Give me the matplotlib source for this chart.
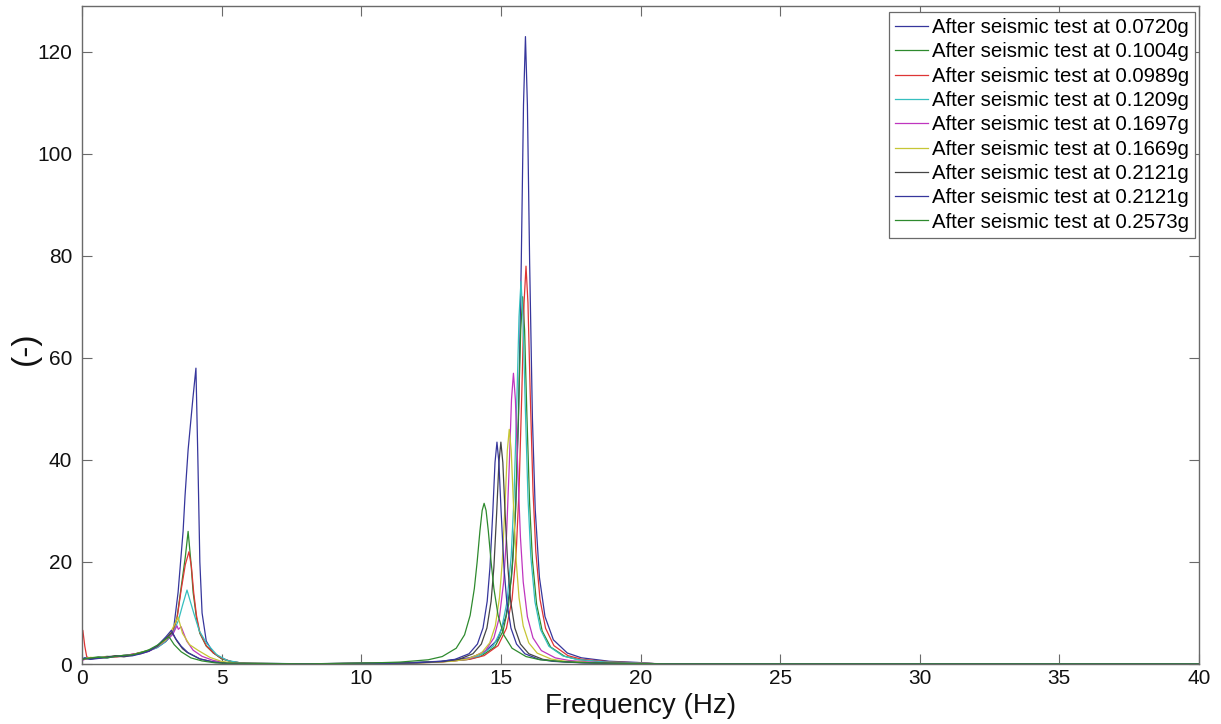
import matplotlib
matplotlib.use("Agg")
import matplotlib.pyplot as plt

plt.rcParams['font.family'] = ['Liberation Sans', 'DejaVu Sans']

labels = [
    "After seismic test at 0.0720g",
    "After seismic test at 0.1004g",
    "After seismic test at 0.0989g",
    "After seismic test at 0.1209g",
    "After seismic test at 0.1697g",
    "After seismic test at 0.1669g",
    "After seismic test at 0.2121g",
    "After seismic test at 0.2121g",
    "After seismic test at 0.2573g",
]
colors = ['#36369c', '#2e8a2e', '#de3535', '#35bfbf', '#bf35bf',
          '#c6c635', '#454545', '#36369c', '#2e8a2e']

# ---- series 1 (0.0720g) ----
s1_freq = [0, 0.1, 0.3, 0.6, 0.9, 1.2, 1.5, 1.8, 2.1, 2.4, 2.7, 3.0, 3.26, 3.44, 3.62, 3.69, 3.8, 3.97, 4.08,
           4.15, 4.22, 4.3, 4.45, 4.7, 4.95, 5.3, 5.7, 6.2, 8.0,
           11.88, 12.88, 13.88, 14.38, 14.88, 15.18, 15.38, 15.53, 15.63, 15.73, 15.81, 15.88,
           15.95, 16.03, 16.13, 16.23, 16.38, 16.58, 16.88, 17.38, 17.88, 18.88, 19.88, 20.5, 21.0, 40.0]
s1_amp = [0.8, 1.0, 1.1, 1.3, 1.2, 1.5, 1.6, 1.9, 2.2, 2.6, 3.3, 4.4, 6.0, 14, 26, 33, 42, 52, 58,
          40, 20, 10, 4.5, 2.2, 1.3, 0.5, 0.2, 0.05, 0.03,
          0.31, 0.54, 1.22, 2.15, 4.74, 9.29, 17.0, 30.3, 48.0, 78.7, 109.6, 123,
          109.6, 78.7, 48.0, 30.3, 17.0, 9.29, 4.74, 2.15, 1.22, 0.54, 0.31, 0.08, 0.03, 0.02]

# ---- series 2 (0.1004g) ----
s2_freq = [0, 0.1, 0.3, 0.6, 0.9, 1.2, 1.5, 1.8, 2.1, 2.4, 2.7, 3.0, 3.25, 3.4, 3.55, 3.7, 3.8, 3.9, 3.98,
           4.1, 4.22, 4.45, 4.7, 5.0, 5.4, 5.9, 8.0,
           11.78, 12.78, 13.78, 14.28, 14.78, 15.08, 15.28, 15.43, 15.53, 15.63, 15.71, 15.78,
           15.85, 15.93, 16.03, 16.13, 16.28, 16.48, 16.78, 17.28, 17.78, 18.78, 19.78, 20.5, 21.0, 40.0]
s2_amp = [0.9, 1.1, 1.2, 1.4, 1.3, 1.6, 1.5, 1.8, 2.3, 2.7, 3.4, 4.5, 6.2, 9.0, 15, 21, 26, 20, 14,
          9, 6, 3.5, 2.2, 1.0, 0.4, 0.1, 0.03,
          0.22, 0.39, 0.86, 1.52, 3.33, 6.47, 11.7, 20.4, 31.4, 49.1, 65.4, 72,
          65.4, 49.1, 31.4, 20.4, 11.7, 6.47, 3.33, 1.52, 0.86, 0.39, 0.22, 0.07, 0.03, 0.02]

# ---- series 3 (0.0989g) ----
s3_freq = [0, 0.03, 0.1, 0.17, 0.3, 0.6, 0.9, 1.2, 1.5, 1.8, 2.1, 2.4, 2.7, 3.0, 3.25, 3.4, 3.55, 3.7, 3.83,
           3.92, 4.0, 4.1, 4.22, 4.45, 4.7, 5.0, 5.4, 5.9, 8.0,
           11.9, 12.9, 13.9, 14.4, 14.9, 15.2, 15.4, 15.55, 15.65, 15.75, 15.83, 15.9,
           15.97, 16.05, 16.15, 16.25, 16.4, 16.6, 16.9, 17.4, 17.9, 18.9, 19.9, 20.5, 21.0, 40.0]
s3_amp = [5.0, 6.6, 3.5, 1.4, 1.1, 1.3, 1.4, 1.5, 1.7, 1.9, 2.2, 2.6, 3.3, 4.6, 6.3, 8.8, 14.5, 19.5, 22,
          19, 14, 9.5, 6.2, 3.6, 2.2, 1.1, 0.4, 0.1, 0.03,
          0.24, 0.42, 0.93, 1.64, 3.60, 7.01, 12.7, 22.1, 34.0, 53.2, 70.8, 78,
          70.8, 53.2, 34.0, 22.1, 12.7, 7.01, 3.60, 1.64, 0.93, 0.42, 0.24, 0.08, 0.03, 0.02]

# ---- series 4 (0.1209g) ----
s4_freq = [0, 0.1, 0.3, 0.6, 0.9, 1.2, 1.5, 1.8, 2.1, 2.4, 2.7, 3.0, 3.25, 3.45, 3.6, 3.76,
           4.0, 4.2, 4.47, 4.83, 5.2, 5.7, 8.0,
           11.72, 12.72, 13.72, 14.22, 14.72, 15.02, 15.22, 15.37, 15.47, 15.57, 15.65, 15.72,
           15.79, 15.87, 15.97, 16.07, 16.22, 16.42, 16.72, 17.22, 17.72, 18.72, 19.72, 20.5, 21.0, 40.0]
s4_amp = [1.0, 1.2, 1.0, 1.3, 1.5, 1.4, 1.7, 1.8, 2.1, 2.6, 3.2, 4.4, 6.0, 8.5, 11.5, 14.5,
          10, 6.5, 4.0, 1.8, 0.7, 0.2, 0.03,
          0.23, 0.40, 0.90, 1.58, 3.47, 6.74, 12.2, 21.2, 32.7, 51.2, 68.1, 75,
          68.1, 51.2, 32.7, 21.2, 12.2, 6.74, 3.47, 1.58, 0.90, 0.40, 0.23, 0.07, 0.03, 0.02]

# ---- series 5 (0.1697g) ----
s5_freq = [0, 0.1, 0.3, 0.6, 0.9, 1.2, 1.5, 1.8, 2.1, 2.4, 2.7, 3.0, 3.25, 3.4, 3.45, 3.55,
           3.75, 3.98, 4.3, 4.7, 5.2, 8.0,
           11.45, 12.45, 13.45, 13.95, 14.45, 14.75, 14.95, 15.1, 15.2, 15.3, 15.38, 15.45,
           15.52, 15.6, 15.7, 15.8, 15.95, 16.15, 16.45, 16.95, 17.45, 18.45, 19.45, 20.5, 21.0, 40.0]
s5_amp = [0.7, 0.9, 1.2, 1.1, 1.4, 1.3, 1.6, 1.9, 2.0, 2.5, 3.4, 4.6, 5.8, 7.5, 6.8, 7.3,
          4.5, 2.7, 1.5, 0.7, 0.2, 0.03,
          0.17, 0.30, 0.68, 1.20, 2.63, 5.12, 9.25, 16.1, 24.9, 38.9, 51.8, 57,
          51.8, 38.9, 24.9, 16.1, 9.25, 5.12, 2.63, 1.20, 0.68, 0.30, 0.17, 0.06, 0.03, 0.02]

# ---- series 6 (0.1669g) ----
s6_freq = [0, 0.1, 0.3, 0.6, 0.9, 1.2, 1.5, 1.8, 2.1, 2.4, 2.7, 3.0, 3.2, 3.44,
           3.6, 3.85, 4.15, 4.58, 5.0, 5.5, 8.0,
           11.3, 12.3, 13.3, 13.8, 14.3, 14.6, 14.8, 14.95, 15.05, 15.15, 15.23, 15.3,
           15.37, 15.45, 15.55, 15.65, 15.8, 16.0, 16.3, 16.8, 17.3, 18.3, 19.3, 20.5, 21.0, 40.0]
s6_amp = [0.9, 1.0, 1.3, 1.2, 1.5, 1.4, 1.5, 1.8, 2.2, 2.7, 3.5, 4.7, 6.5, 9.2,
          6.0, 3.8, 2.7, 1.3, 0.5, 0.15, 0.03,
          0.14, 0.25, 0.55, 0.97, 2.13, 4.14, 7.46, 13.0, 20.1, 31.4, 41.8, 46,
          41.8, 31.4, 20.1, 13.0, 7.46, 4.14, 2.13, 0.97, 0.55, 0.25, 0.14, 0.05, 0.02, 0.02]

# ---- series 7 (0.2121g) ----
s7_freq = [0, 0.1, 0.3, 0.6, 0.9, 1.2, 1.5, 1.8, 2.1, 2.4, 2.7, 3.0, 3.22,
           3.4, 3.6, 3.76, 4.22, 4.7, 5.2, 8.0,
           11.0, 12.0, 13.0, 13.5, 14.0, 14.3, 14.5, 14.65, 14.75, 14.85, 14.93, 15.0,
           15.07, 15.15, 15.25, 15.35, 15.5, 15.7, 16.0, 16.5, 17.0, 18.0, 19.0, 20.5, 21.0, 40.0]
s7_amp = [0.8, 1.1, 1.0, 1.2, 1.4, 1.6, 1.4, 1.7, 2.1, 2.6, 3.5, 5.0, 6.2,
          4.5, 3.0, 2.3, 1.0, 0.4, 0.1, 0.03,
          0.13, 0.23, 0.52, 0.92, 2.01, 3.91, 7.06, 12.3, 19.0, 29.7, 39.5, 43.5,
          39.5, 29.7, 19.0, 12.3, 7.06, 3.91, 2.01, 0.92, 0.52, 0.23, 0.13, 0.05, 0.02, 0.02]

# ---- series 8 (0.2121g) ----
s8_freq = [0, 0.1, 0.3, 0.6, 0.9, 1.2, 1.5, 1.8, 2.1, 2.4, 2.7, 3.0, 3.2,
           3.35, 3.55, 3.8, 4.22, 4.7, 5.2, 8.0,
           10.86, 11.86, 12.86, 13.36, 13.86, 14.16, 14.36, 14.51, 14.61, 14.71, 14.79, 14.86,
           14.93, 15.01, 15.11, 15.21, 15.36, 15.56, 15.86, 16.36, 16.86, 17.86, 18.86, 20.5, 21.0, 40.0]
s8_amp = [1.0, 1.2, 0.9, 1.1, 1.3, 1.5, 1.6, 1.6, 2.0, 2.5, 3.6, 5.3, 6.6,
          5.0, 3.5, 2.2, 1.0, 0.4, 0.1, 0.03,
          0.13, 0.23, 0.52, 0.92, 2.01, 3.91, 7.06, 12.3, 19.0, 29.7, 39.5, 43.5,
          39.5, 29.7, 19.0, 12.3, 7.06, 3.91, 2.01, 0.92, 0.52, 0.23, 0.13, 0.05, 0.02, 0.02]

# ---- series 9 (0.2573g) ----
s9_freq = [0, 0.1, 0.3, 0.6, 0.9, 1.2, 1.5, 1.8, 2.1, 2.4, 2.7, 3.0, 3.12,
           3.3, 3.55, 3.9, 4.3, 4.8, 8.0,
           10.4, 11.4, 12.4, 12.9, 13.4, 13.7, 13.9, 14.05, 14.15, 14.25, 14.33, 14.4,
           14.47, 14.55, 14.65, 14.75, 14.9, 15.1, 15.4, 15.9, 16.4, 17.4, 18.4, 20.5, 21.0, 40.0]
s9_amp = [0.9, 1.0, 1.2, 1.3, 1.2, 1.5, 1.7, 1.8, 2.2, 2.8, 3.7, 4.9, 5.3,
          3.8, 2.4, 1.2, 0.6, 0.2, 0.03,
          0.21, 0.38, 0.83, 1.46, 3.09, 5.73, 9.55, 14.8, 20.0, 26.1, 30.1, 31.5,
          30.1, 26.1, 20.0, 14.8, 9.55, 5.73, 3.09, 1.46, 0.83, 0.38, 0.21, 0.05, 0.02, 0.02]

series = [(s1_freq, s1_amp), (s2_freq, s2_amp), (s3_freq, s3_amp), (s4_freq, s4_amp),
          (s5_freq, s5_amp), (s6_freq, s6_amp), (s7_freq, s7_amp), (s8_freq, s8_amp),
          (s9_freq, s9_amp)]

x_ticks = [0, 5, 10, 15, 20, 25, 30, 35, 40]
y_ticks = [0, 20, 40, 60, 80, 100, 120]

W, H = 1221, 724
fig = plt.figure(figsize=(W / 100, H / 100), dpi=100)
ax = fig.add_axes([82 / W, (H - 664) / H, (1199 - 82) / W, (664 - 6) / H])

for (f, a), c, lab in zip(series, colors, labels):
    ax.plot(f, a, color=c, lw=0.9, label=lab)

ax.set_xlim(0, 40)
ax.set_ylim(0, 129)
ax.set_xticks(x_ticks)
ax.set_yticks(y_ticks)

spine_c = '#6a6a6a'
for s in ax.spines.values():
    s.set_color(spine_c)
    s.set_linewidth(1.0)
ax.tick_params(direction='in', length=7, width=0.8, color=spine_c,
               top=True, right=True, labelsize=15, labelcolor='#111111')
ax.tick_params(axis='y', pad=7)
ax.tick_params(axis='x', pad=3.5)

ax.set_xlabel('Frequency (Hz)', fontsize=20, color='#111111')
ax.set_ylabel('(-)', fontsize=24, color='#111111')
ax.xaxis.set_label_coords(0.5, -0.0435)
ax.yaxis.set_label_coords(-0.037, 0.48)

leg = ax.legend(loc='upper right', bbox_to_anchor=((1195 - 82) / 1117, (664 - 12) / 658),
                borderaxespad=0, fontsize=14.7, frameon=True, fancybox=False,
                framealpha=1, edgecolor='#6a6a6a', handlelength=1.6,
                handletextpad=0.2, labelspacing=0.26, borderpad=0.3)
leg.get_frame().set_linewidth(0.9)

fig.savefig('out.png', dpi=100)
